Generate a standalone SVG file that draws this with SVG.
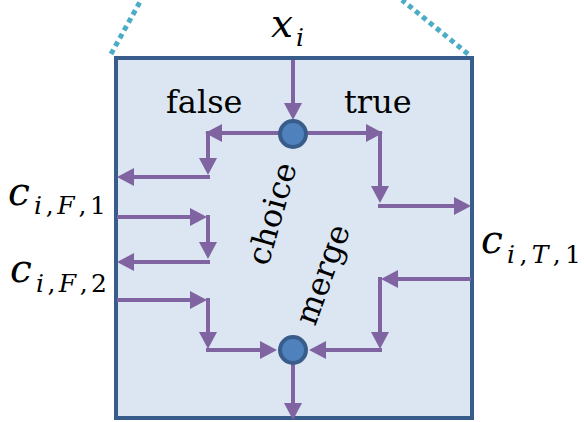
<svg xmlns="http://www.w3.org/2000/svg" width="584" height="422" viewBox="0 0 584 422">
<style>
.conn{stroke:#8064a2;stroke-width:4;fill:none;marker-end:url(#ah)}
.node{fill:#4f81bd;stroke:#385d8a;stroke-width:4}
.lbl{font-family:"DejaVu Serif","Liberation Serif",serif;font-size:32px;fill:#000}
.m{font-family:"DejaVu Serif","Liberation Serif",serif;font-style:italic;font-size:39px;fill:#000}
.s{font-family:"DejaVu Serif","Liberation Serif",serif;font-size:25px;fill:#000}
.it{font-style:italic}
.dot{stroke:#4bacc6;stroke-width:5;stroke-dasharray:5 4;fill:none}
</style>
<defs>
<marker id="ah" markerUnits="userSpaceOnUse" viewBox="0 0 17 18" refX="13" refY="9" markerWidth="17" markerHeight="18" orient="auto">
<path d="M0,0 L17,9 L0,18 z" fill="#8064a2"/>
</marker>
</defs>
<g id="boundary">
<path class="dot" d="M111,54 L141,0"/>
<path class="dot" d="M468,54 L402,0"/>
<rect x="116" y="58" width="356" height="360" fill="#dce6f2" stroke="#385d8a" stroke-width="4"/>
</g>
<g id="connectors">
<path class="conn" d="M293,60 V116"/>
<path class="conn" d="M293,133 H209"/>
<path class="conn" d="M208,131 V171"/>
<path class="conn" d="M210,177 H121"/>
<path class="conn" d="M293,133 H379"/>
<path class="conn" d="M380,131 V199"/>
<path class="conn" d="M378,206 H467"/>
<path class="conn" d="M117,217 H203"/>
<path class="conn" d="M208,215 V255"/>
<path class="conn" d="M210,262 H121"/>
<path class="conn" d="M117,300 H203"/>
<path class="conn" d="M208,298 V345"/>
<path class="conn" d="M206,350 H273"/>
<path class="conn" d="M471,279 H385"/>
<path class="conn" d="M380,277 V345"/>
<path class="conn" d="M382,350 H313"/>
<path class="conn" d="M293,364 V416"/>
</g>
<g id="choice">
<circle class="node" cx="293" cy="134" r="13"/>
<text class="lbl" transform="translate(268,267) rotate(-74)">choice</text>
</g>
<g id="merge">
<circle class="node" cx="293" cy="350" r="13"/>
<text class="lbl" transform="translate(315,327) rotate(-70)">merge</text>
</g>
<g id="label-false"><text class="lbl" x="166" y="113">false</text></g>
<g id="label-true"><text class="lbl" x="344" y="113">true</text></g>
<g id="label-xi">
<text class="m" x="271" y="37">x</text>
<text class="s it" x="296" y="46">i</text>
</g>
<g id="label-cF1">
<text class="m" x="8" y="205">c</text>
<text class="s" x="34" y="214" textLength="72" lengthAdjust="spacing"><tspan class="it">i</tspan>,<tspan class="it">F</tspan>,1</text>
</g>
<g id="label-cF2">
<text class="m" x="10" y="282">c</text>
<text class="s" x="36" y="292" textLength="71" lengthAdjust="spacing"><tspan class="it">i</tspan>,<tspan class="it">F</tspan>,2</text>
</g>
<g id="label-cT1">
<text class="m" x="481" y="253">c</text>
<text class="s" x="507" y="263" textLength="74" lengthAdjust="spacing"><tspan class="it">i</tspan>,<tspan class="it">T</tspan>,1</text>
</g>
</svg>
